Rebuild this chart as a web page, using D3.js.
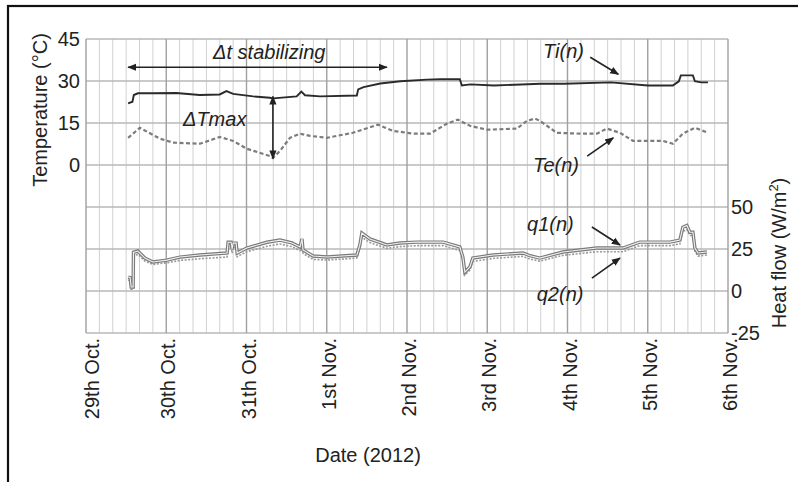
<!DOCTYPE html>
<html><head><meta charset="utf-8">
<script src="https://cdn.jsdelivr.net/npm/d3@7"></script>
<style>body{margin:0;background:#fff}svg text{font-family:"Liberation Sans",Arial,sans-serif}</style>
</head><body>
<svg id="c" width="798" height="482"></svg>
<script>
// hours since 29 Oct 2012 00:00
const dayLabels = ["29th Oct.","30th Oct.","31th Oct.","1st Nov.","2nd Nov.","3rd Nov.","4th Nov.","5th Nov.","6th Nov."];
const tempTicks = [0,15,30,45];
const heatTicks = [-25,0,25,50];
const tiSeries = [[12.6,22.0],[13.9,22.6],[14.3,25.0],[15.5,25.6],[20,25.6],[27,25.7],[34,25.0],[40,25.2],[42,26.4],[44,25.4],[50,24.5],[55,24.0],[56,23.8],[63,24.5],[64.4,26.2],[65.5,24.9],[70,24.5],[81,24.8],[81.4,27.0],[83,27.8],[88,29.1],[94,29.9],[102,30.5],[106,30.6],[111.8,30.6],[112.4,28.4],[115,28.8],[122,28.4],[136,29.0],[143,29.0],[157,29.5],[168,28.4],[175.5,28.4],[177.3,29.9],[177.9,32],[181.5,32],[182.1,29.9],[184,29.5],[186,29.5]];
const teSeries = [[12.6,9.7],[16.1,13.3],[22.1,9.4],[26,8],[34.1,7.6],[40,10],[44,8.6],[48.1,5.8],[55,3.2],[55.9,2.5],[58,5],[61,9.7],[64,11.2],[67,10.4],[72,9.7],[79.8,11.5],[87.3,14.4],[91.8,12.2],[97.8,11.2],[102.9,11.2],[108,14.8],[111.2,16.2],[114.8,14],[119.9,12.6],[128.9,13],[131.9,15.8],[134.3,16.6],[135.7,15.8],[140.8,11.5],[147.7,11.2],[152.8,11.2],[155.8,13],[159.7,11.5],[163.6,8.6],[172.5,8.6],[175.5,7.6],[178.5,11.2],[182.1,13.3],[186,11.5]];
const q1Series = [[12.6,8.3],[13.2,8.0],[13.5,2.4],[14.1,2.4],[14.2,23],[15.5,23.8],[17.6,19.6],[20,17.3],[24.2,18.4],[28.1,20.2],[34.1,21.4],[42.2,22.6],[42.5,29],[43.4,29],[43.7,25],[44,28.5],[44.9,28.5],[45.2,22.6],[48.1,25.6],[54.1,29],[58,30.3],[61.6,28.6],[64,26.2],[64.6,31],[64.9,24.4],[67.9,20.8],[72.1,20.2],[81,21.4],[81.9,27.4],[82.5,34.5],[84.9,31],[90,27.4],[93.9,28.6],[99,29.1],[106.8,29.1],[111.8,26.2],[112.7,20.2],[113.3,11.3],[114.8,14.3],[115.7,19.6],[121.7,21.4],[130.7,22.6],[132.8,21.0],[135.7,19.6],[142.6,23.2],[152.8,25.6],[160.6,25.6],[165.6,29.1],[174.6,29.1],[177.6,30.3],[178.5,38],[179.7,39],[180.6,35],[181.5,35],[182.1,25.6],[183,22.6],[185.7,23.2]];
const q2Series = [[12.6,6.5],[13.2,6.2],[13.5,1.0],[14.1,1.0],[14.2,21],[15.5,21.8],[17.6,17.8],[20,15.8],[24.2,16.8],[28.1,18.2],[34.1,19.2],[42.2,20.2],[42.5,26.5],[43.4,26.5],[43.7,22.5],[44,26],[44.9,26],[45.2,20.4],[48.1,23.4],[54.1,26.6],[58,28],[61.6,26.4],[64,24],[64.6,28.5],[64.9,22.4],[67.9,18.8],[72.1,18.4],[81,19.6],[81.9,25],[82.5,32],[84.9,28.8],[90,25.4],[93.9,26.4],[99,27],[106.8,27],[111.8,24],[112.7,18.2],[113.3,9.5],[114.8,12.5],[115.7,17.6],[121.7,19.4],[130.7,20.6],[132.8,19],[135.7,17.8],[142.6,21.2],[152.8,23.4],[160.6,23.4],[165.6,27],[174.6,27],[177.6,28],[178.5,35.5],[179.7,36.5],[180.6,33],[181.5,33],[182.1,23.6],[183,20.8],[185.7,21.4]];

const svg = d3.select("#c");
const L=86,R=728,T=39,B=333;
const x = d3.scaleLinear().domain([0,192]).range([L,R]);
const yT = d3.scaleLinear().domain([-60,45]).range([B,T]);
const yQ = d3.scaleLinear().domain([-25,150]).range([B,T]);

// outer frame
svg.append("rect").attr("x",8).attr("y",6).attr("width",820).attr("height",500)
  .attr("fill","none").attr("stroke","#111").attr("stroke-width",2.2);

const g = svg.append("g");
g.selectAll(".vm").data(d3.range(0,193,4).filter(h=>h%24!==0)).join("line")
  .attr("x1",d=>x(d)).attr("x2",d=>x(d)).attr("y1",T).attr("y2",B)
  .attr("stroke","#d0d0d0").attr("stroke-width",1);
g.selectAll(".hg").data(d3.range(-60,46,15)).join("line")
  .attr("x1",L).attr("x2",R).attr("y1",d=>yT(d)).attr("y2",d=>yT(d))
  .attr("stroke","#b8b8b8").attr("stroke-width",1.3);
g.selectAll(".vM").data(d3.range(0,193,24)).join("line")
  .attr("x1",d=>x(d)).attr("x2",d=>x(d)).attr("y1",T).attr("y2",B)
  .attr("stroke","#a0a0a0").attr("stroke-width",1.4);

const fs = 20;
const ax = svg.append("g").attr("transform",`translate(${L-6},0)`)
  .call(d3.axisLeft(yT).tickValues(tempTicks).tickFormat(d=>String(d)).tickSize(0).tickPadding(0));
ax.select(".domain").remove();
ax.selectAll("text").attr("font-size",fs).attr("fill","#222").attr("font-family","Liberation Sans, Arial, sans-serif");
const axr = svg.append("g").attr("transform",`translate(${R+3},0)`)
  .call(d3.axisRight(yQ).tickValues(heatTicks).tickFormat(d=>String(d)).tickSize(0).tickPadding(0));
axr.select(".domain").remove();
axr.selectAll("text").attr("font-size",fs).attr("fill","#222").attr("font-family","Liberation Sans, Arial, sans-serif");

svg.append("g").selectAll("text").data(dayLabels).join("text")
  .attr("transform",(d,i)=>`translate(${x(i*24)+ (i===0?13:9)},${B+5}) rotate(-90)`)
  .attr("text-anchor","end").attr("font-size",fs).attr("fill","#222").text(d=>d);

svg.append("text").attr("x",368).attr("y",462).attr("text-anchor","middle")
  .attr("font-size",fs).attr("fill","#222").text("Date (2012)");
svg.append("text").attr("transform","translate(47,110) rotate(-90)").attr("text-anchor","middle")
  .attr("font-size",fs).attr("fill","#222").text("Temperature (°C)");
const hf = svg.append("text").attr("transform","translate(786,253) rotate(-90)").attr("text-anchor","middle")
  .attr("font-size",fs).attr("fill","#222");
hf.append("tspan").text("Heat flow (W/m");
hf.append("tspan").attr("dy",-8).attr("font-size",13).text("2");
hf.append("tspan").attr("dy",8).text(")");

const lineT = d3.line().x(d=>x(d[0])).y(d=>yT(d[1]));
const lineQ = d3.line().x(d=>x(d[0])).y(d=>yQ(d[1]));
svg.append("path").attr("d",lineQ(q2Series)).attr("fill","none").attr("stroke","#9a9a9a")
  .attr("stroke-width",1.6).attr("stroke-dasharray","2,1.5");
svg.append("path").attr("d",lineQ(q1Series)).attr("fill","none").attr("stroke","#7a7a7a").attr("stroke-width",3.4);
svg.append("path").attr("d",lineQ(q1Series)).attr("fill","none").attr("stroke","#f2f2f2").attr("stroke-width",1.1);
svg.append("path").attr("d",lineT(teSeries)).attr("fill","none").attr("stroke","#7c7c7c")
  .attr("stroke-width",2.2).attr("stroke-dasharray","4,2.5");
svg.append("path").attr("d",lineT(tiSeries)).attr("fill","none").attr("stroke","#2a2a2a").attr("stroke-width",1.9);

const defs = svg.append("defs");
defs.append("marker").attr("id","ah").attr("viewBox","0 0 10 10").attr("refX",9).attr("refY",5)
  .attr("markerWidth",9).attr("markerHeight",9).attr("orient","auto-start-reverse").attr("markerUnits","userSpaceOnUse")
  .append("path").attr("d","M0,1 L10,5 L0,9 Z").attr("fill","#222");
function arrow(x1,y1,x2,y2,both){
  const l = svg.append("line").attr("x1",x1).attr("y1",y1).attr("x2",x2).attr("y2",y2)
    .attr("stroke","#222").attr("stroke-width",1.6).attr("marker-end","url(#ah)");
  if(both) l.attr("marker-start","url(#ah)");
}
arrow(x(12.6),yT(34.9),x(90),yT(34.9),true);
arrow(x(55.9),yT(24.5),x(55.9),yT(2.3),true);
arrow(x(150.8),yT(38.5),x(159.2),yT(32.4));
arrow(x(149.9),yT(3.2),x(157.7),yT(9.7));
arrow(x(151.3),yQ(38.1),x(159.7),yQ(27.4));
arrow(x(151.3),yQ(7.7),x(159.7),yQ(19.6));
const ann = [["Δt stabilizing",x(38),yT(37.8)],["ΔTmax",x(29),yT(14)],["Ti(n)",x(136.7),yT(38.2)],["Te(n)",x(133.7),yT(-2.5)],["q1(n)",x(131.9),yQ(35.7)],["q2(n)",x(134.8),yQ(-6)]];
svg.append("g").selectAll("text").data(ann).join("text")
  .attr("x",d=>d[1]).attr("y",d=>d[2]).attr("font-size",fs).attr("font-style","italic").attr("fill","#222").text(d=>d[0]);
</script>
</body></html>
